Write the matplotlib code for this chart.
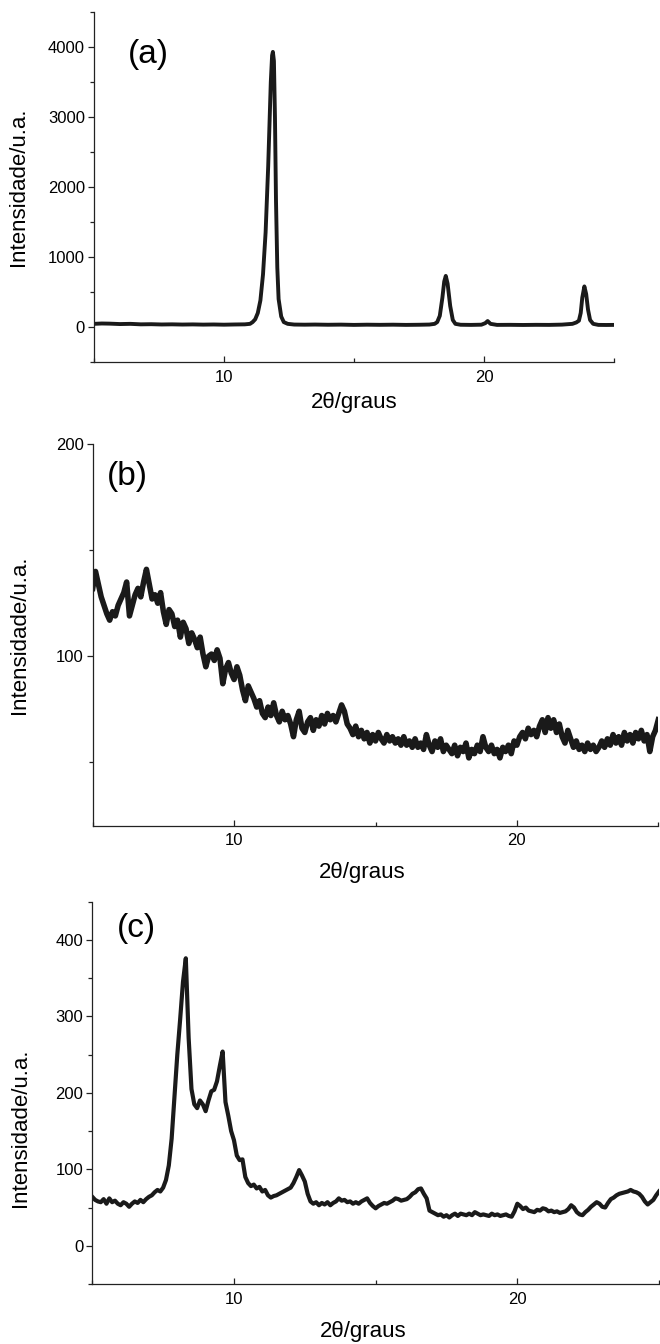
import numpy as np
import matplotlib
matplotlib.use("Agg")
import matplotlib.pyplot as plt
from matplotlib.ticker import MultipleLocator

plt.rcParams['font.family'] = ['Liberation Sans', 'DejaVu Sans']

# ---------------- data ----------------
theta_a = [5.0, 5.3, 5.6, 6.0, 6.4, 6.8, 7.2, 7.6, 8.0, 8.4, 8.8, 9.2, 9.6, 10.0,
           10.4, 10.8, 11.0, 11.1, 11.2, 11.3, 11.4, 11.5, 11.6, 11.7, 11.75, 11.8,
           11.85, 11.88, 11.92, 11.96, 12.0, 12.05, 12.1, 12.2, 12.3, 12.45, 12.7,
           13.1, 13.5, 14.0, 14.5, 15.0, 15.5, 16.0, 16.5, 17.0, 17.5, 17.9, 18.1,
           18.2, 18.3, 18.4, 18.47, 18.53, 18.6, 18.7, 18.8, 18.9, 19.1, 19.5, 19.9,
           20.05, 20.14, 20.25, 20.5, 21.0, 21.5, 22.0, 22.5, 23.0, 23.4, 23.55,
           23.65, 23.72, 23.78, 23.86, 23.93, 24.0, 24.08, 24.2, 24.4, 24.7, 25.0]
inten_a = [45, 50, 48, 42, 45, 38, 40, 36, 38, 35, 37, 34, 36, 33,
           36, 38, 45, 70, 110, 200, 380, 750, 1350, 2300, 2900, 3500,
           3880, 3930, 3800, 3000, 1800, 850, 400, 150, 70, 45, 35,
           33, 35, 32, 34, 30, 33, 31, 33, 30, 32, 35, 45,
           70, 160, 420, 650, 730, 620, 300, 100, 45, 32, 30, 33,
           55, 85, 45, 30, 31, 29, 31, 30, 34, 45, 65,
           90, 200, 420, 580, 470, 250, 100, 45, 30, 29, 30]

# panels (b) and (c): sampled every 0.1 deg from 5 to 25
theta_start, theta_end, n_pts = 5.0, 25.0, 201

inten_b = [132, 140, 134, 128, 124, 120, 117, 121, 119, 124,
           127, 130, 135, 119, 124, 129, 132, 128, 135, 141,
           134, 127, 129, 125, 130, 121, 115, 122, 120, 114,
           117, 109, 116, 113, 106, 111, 108, 104, 109, 101,
           95, 100, 101, 98, 103, 99, 87, 94, 97, 92,
           89, 95, 91, 84, 79, 86, 83, 80, 76, 79,
           73, 71, 76, 72, 78, 72, 69, 74, 70, 72,
           68, 62, 70, 74, 66, 64, 69, 71, 65, 70,
           67, 72, 68, 73, 70, 72, 69, 73, 77, 74,
           68, 66, 63, 67, 62, 65, 61, 64, 59, 63,
           60, 64, 61, 59, 63, 60, 62, 59, 61, 58,
           62, 58, 60, 57, 61, 57, 59, 56, 63, 58,
           55, 60, 57, 61, 55, 58, 56, 54, 58, 53,
           57, 55, 59, 52, 56, 54, 58, 55, 62, 57,
           55, 58, 54, 56, 52, 57, 55, 58, 54, 60,
           58, 62, 64, 61, 66, 63, 65, 62, 67, 70,
           64, 71, 66, 70, 64, 68, 62, 59, 65, 61,
           57, 60, 56, 58, 55, 59, 56, 58, 55, 57,
           60, 57, 61, 58, 63, 59, 62, 58, 64, 60,
           63, 59, 64, 61, 65, 60, 63, 55, 62, 65,
           70]

inten_c = [64, 60, 58, 57, 61, 55, 62, 57, 59, 55,
           53, 57, 55, 51, 55, 58, 56, 60, 57, 61,
           64, 66, 70, 73, 71, 76, 86, 105, 140, 195,
           250, 296, 345, 376, 272, 205, 185, 180, 190, 185,
           176, 190, 202, 204, 215, 235, 254, 188, 170, 150,
           138, 118, 112, 113, 90, 82, 78, 80, 75, 77,
           71, 73, 66, 63, 65, 66, 68, 70, 72, 74,
           76, 82, 90, 99, 92, 84, 68, 58, 55, 57,
           53, 56, 54, 57, 53, 56, 58, 62, 59, 60,
           57, 58, 55, 57, 55, 58, 60, 62, 56, 52,
           49, 52, 54, 56, 55, 57, 59, 62, 61, 59,
           60, 61, 64, 68, 70, 74, 75, 68, 62, 46,
           44, 42, 40, 41, 38, 40, 37, 40, 42, 39,
           42, 41, 40, 42, 40, 44, 42, 40, 41, 40,
           39, 42, 40, 41, 39, 40, 41, 39, 38, 45,
           55, 52, 48, 50, 46, 45, 44, 47, 46, 49,
           48, 45, 46, 44, 45, 43, 44, 45, 48, 53,
           50, 44, 41, 40, 44, 47, 51, 54, 57, 55,
           51, 50, 56, 61, 63, 66, 68, 69, 70, 71,
           73, 71, 70, 68, 64, 58, 54, 57, 60, 66,
           71]

panel_tags = ['(a)', '(b)', '(c)']
x_label = '2θ/graus'
y_label = 'Intensidade/u.a.'

theta_grid = np.linspace(theta_start, theta_end, n_pts)

# ---------------- figure ----------------
fig = plt.figure(figsize=(6.6, 13.44), dpi=100)
W, H = 660.0, 1344.0

def make_ax(l, r, t, b):
    return fig.add_axes([l / W, 1 - b / H, (r - l) / W, (b - t) / H])

ax_a = make_ax(94, 614, 12, 362)
ax_b = make_ax(92.7, 658.3, 444.3, 825.7)
ax_c = make_ax(92.3, 659, 901.7, 1284)

lc = '#1a1a1a'
ax_a.plot(theta_a, inten_a, color=lc, lw=2.8, solid_joinstyle='round')
ax_b.plot(theta_grid, inten_b, color=lc, lw=4.0, solid_joinstyle='round')
ax_c.plot(theta_grid, inten_c, color=lc, lw=3.0, solid_joinstyle='round')

settings = [
    (ax_a, (-500, 4500), 1000, 500, (-0.125, 0.5)),
    (ax_b, (20, 200), 100, 50, (-0.111, 0.5)),
    (ax_c, (-50, 450), 100, 50, (-0.109, 0.41)),
]

for ax, ylim, ymaj, ymin, ylab_coords in settings:
    ax.set_xlim(5, 25)
    ax.set_ylim(*ylim)
    ax.spines['top'].set_visible(False)
    ax.spines['right'].set_visible(False)
    for s in ('left', 'bottom'):
        ax.spines[s].set_linewidth(0.9)
        ax.spines[s].set_color('#222222')
    ax.xaxis.set_major_locator(MultipleLocator(10))
    ax.xaxis.set_minor_locator(MultipleLocator(5))
    ax.yaxis.set_major_locator(MultipleLocator(ymaj))
    ax.yaxis.set_minor_locator(MultipleLocator(ymin))
    ax.tick_params(axis='x', which='major', direction='in', length=4.5, width=0.9,
                   pad=5.5, labelsize=12, color='#222222')
    ax.tick_params(axis='x', which='minor', direction='in', length=3, width=0.9,
                   color='#222222')
    ax.tick_params(axis='y', which='major', direction='out', length=4.5, width=0.9,
                   pad=2.0, labelsize=12, color='#222222')
    ax.tick_params(axis='y', which='minor', direction='out', length=3, width=0.9,
                   color='#222222')
    ax.set_ylabel(y_label, fontsize=16)
    ax.yaxis.set_label_coords(*ylab_coords)
    ax.set_xlabel(x_label, fontsize=16)

tags_pos = [(6.3, 3890), (5.5, 184.6), (5.86, 415)]
for ax, tag, pos in zip([ax_a, ax_b, ax_c], panel_tags, tags_pos):
    ax.text(pos[0], pos[1], tag, fontsize=24, ha='left', va='center')

# xlabel positions (axes coords; top of text)
ax_a.xaxis.set_label_coords(0.5, -(392 - 362) / 350.0)
ax_b.xaxis.set_label_coords((362 - 92.7) / 565.6, -(862 - 825.7) / 381.4)
ax_c.xaxis.set_label_coords((363 - 92.3) / 566.7, -(1321 - 1284) / 382.3)

fig.savefig('out.png', dpi=100)
